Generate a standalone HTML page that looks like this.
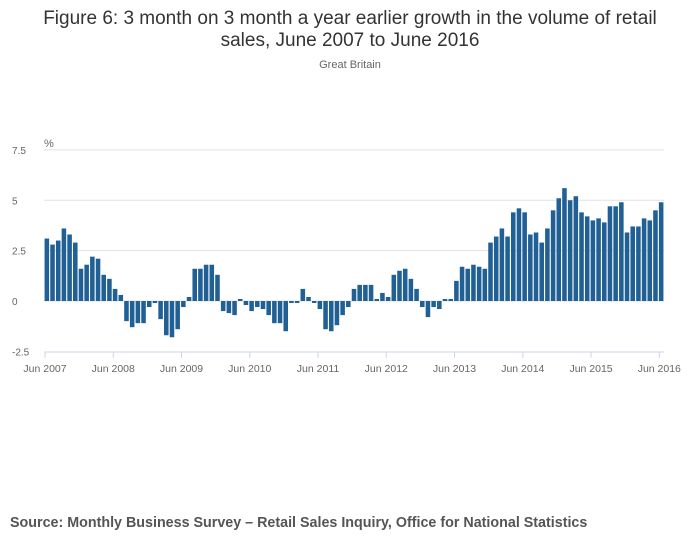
<!DOCTYPE html>
<html><head><meta charset="utf-8"><style>
body{margin:0;width:700px;height:549px;background:#fff;font-family:"Liberation Sans",sans-serif;overflow:hidden}
</style></head><body>
<svg width="700" height="549">
<text x="350" y="24" text-anchor="middle" font-size="19" fill="#333">Figure 6: 3 month on 3 month a year earlier growth in the volume of retail</text>
<text x="350" y="46" text-anchor="middle" font-size="19" fill="#333">sales, June 2007 to June 2016</text>
<text x="350" y="68" text-anchor="middle" font-size="11" fill="#666">Great Britain</text>
<text x="44" y="147" font-size="11" fill="#666">%</text>
<g id="grid"></g><g id="bars"></g><g id="xaxis"></g>
<text x="10" y="527" font-size="14.3" font-weight="bold" fill="#555">Source: Monthly Business Survey – Retail Sales Inquiry, Office for National Statistics</text>
</svg>
<script>
const values=[3.1,2.8,3.0,3.6,3.3,2.9,1.6,1.8,2.2,2.1,1.3,1.1,0.6,0.3,-1.0,-1.3,-1.1,-1.1,-0.3,-0.1,-0.9,-1.7,-1.8,-1.4,-0.3,0.2,1.6,1.6,1.8,1.8,1.3,-0.5,-0.6,-0.7,0.1,-0.2,-0.5,-0.3,-0.4,-0.7,-1.1,-1.1,-1.5,-0.1,-0.1,0.6,0.2,-0.1,-0.4,-1.4,-1.5,-1.2,-0.7,-0.3,0.6,0.8,0.8,0.8,0.1,0.4,0.2,1.3,1.5,1.6,1.1,0.6,-0.3,-0.8,-0.3,-0.4,0.1,0.1,1.0,1.7,1.6,1.8,1.7,1.6,2.9,3.2,3.6,3.2,4.4,4.6,4.4,3.3,3.4,2.9,3.6,4.5,5.1,5.6,5.0,5.2,4.4,4.2,4.0,4.1,3.9,4.7,4.7,4.9,3.4,3.7,3.7,4.1,4.0,4.5,4.9];
const yTicks=[-2.5,0,2.5,5,7.5];
const yTickLabels=["-2.5","0","2.5","5","7.5"];
const xTickLabels=["Jun 2007","Jun 2008","Jun 2009","Jun 2010","Jun 2011","Jun 2012","Jun 2013","Jun 2014","Jun 2015","Jun 2016"];
const NS="http://www.w3.org/2000/svg";
const x0=44,x1=664,step=(x1-x0)/values.length;
const y=v=>301-v*20.15;
const xc=i=>x0+(i+0.5)*step;
function mk(t,a,p){const e=document.createElementNS(NS,t);for(const k in a)e.setAttribute(k,a[k]);p.appendChild(e);return e;}
const G=document.getElementById('grid'),B=document.getElementById('bars'),X=document.getElementById('xaxis');
yTicks.forEach((t,i)=>{
 if(t>-2.5){const l=mk('line',{x1:x0,x2:x1,y1:y(t),y2:y(t),stroke:'#e2e2e2','stroke-width':1},G);
 
 }
 const tx=mk('text',{x:12,y:y(t)+4,'font-size':10,fill:'#666'},G);tx.textContent=yTickLabels[i];
 
 
});
values.forEach((v,i)=>{
 const r=mk('rect',{x:xc(i)-step*0.4,width:step*0.8,y:Math.min(y(v),y(0)),height:Math.abs(y(v)-y(0)),fill:'#206095'},B);
 
 
});
const ax=mk('line',{x1:x0,x2:x1,y1:352,y2:352,stroke:'#ccd6eb','stroke-width':1},X);


xTickLabels.forEach((s,k)=>{
 const xx=x0+1+k*12*step;
 const tk=mk('line',{x1:xx,x2:xx,y1:352,y2:358,stroke:'#ccd6eb'},X);
 
 
 const tx=mk('text',{x:xx,y:372,'font-size':10.5,fill:'#666','text-anchor':'middle'},X);tx.textContent=s;
 
 
});
</script>
</body></html>
